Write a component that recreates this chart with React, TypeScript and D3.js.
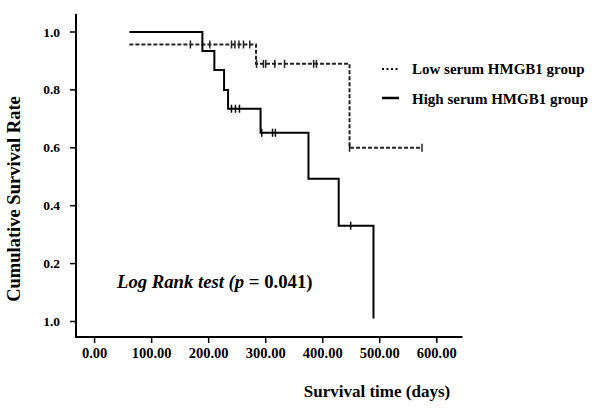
import React from "react";
import * as d3 from "d3";

// High serum HMGB1 group (solid): step points [time, survival]
const highTimes = [61, 189, 210, 227, 234, 291, 375, 428, 489];
const highSurv = [1.0, 0.934, 0.869, 0.8, 0.735, 0.652, 0.493, 0.331, 0.01];
const highCensorTimes = [240, 247, 254, 293, 312, 317, 449];

// Low serum HMGB1 group (dashed)
const lowTimes = [61, 283, 447, 574];
const lowSurv = [0.957, 0.89, 0.6, 0.6];
const lowCensorTimes = [168, 202, 240, 246, 253, 261, 272, 284, 296, 300, 316, 333, 384, 389, 447, 574];

const xTicks = [0, 100, 200, 300, 400, 500, 600];
const xTickLabels = ["0.00", "100.00", "200.00", "300.00", "400.00", "500.00", "600.00"];
const yTicks = [0, 0.2, 0.4, 0.6, 0.8, 1.0];
const yTickLabels = ["1.0", "0.2", "0.4", "0.6", "0.8", "1.0"];

const legendLabels = ["Low serum HMGB1 group", "High serum HMGB1 group"];

const FONT = "'Liberation Serif', 'Times New Roman', serif";

function survAt(times: number[], surv: number[], t: number) {
  let s = surv[0];
  for (let i = 0; i < times.length; i++) if (times[i] <= t) s = surv[i];
  return s;
}

export default function App() {
  const x = d3.scaleLinear().domain([0, 600]).range([94.6, 436.8]);
  const y = d3.scaleLinear().domain([0, 1]).range([321.5, 32]);
  const axisLeft = 76;
  const axisBottom = 337;

  const stepLine = d3
    .line<[number, number]>()
    .x((d) => x(d[0]))
    .y((d) => y(d[1]))
    .curve(d3.curveStepAfter);

  const highPts: [number, number][] = highTimes.map((t, i) => [t, highSurv[i]]);
  const lowPts: [number, number][] = lowTimes.map((t, i) => [t, lowSurv[i]]);

  return (
    <svg width={600} height={411} style={{ position: "absolute", left: 0, top: 0, background: "#fff" }} fontFamily={FONT}>
      <rect width={600} height={411} fill="#fff" />
      {/* axes */}
      <line x1={axisLeft} y1={14} x2={axisLeft} y2={axisBottom + 1} stroke="#000" strokeWidth={2} />
      <line x1={axisLeft - 1} y1={axisBottom} x2={462.5} y2={axisBottom} stroke="#000" strokeWidth={2} />
      {yTicks.map((v, i) => (
        <g key={"y" + i}>
          <line x1={axisLeft - 6} x2={axisLeft} y1={y(v)} y2={y(v)} stroke="#000" strokeWidth={1.5} />
          <text x={60} y={y(v) + 4.5} textAnchor="end" fontSize={13.5} fontWeight="bold">
            {yTickLabels[i]}
          </text>
        </g>
      ))}
      {xTicks.map((v, i) => (
        <g key={"x" + i}>
          <line x1={x(v)} x2={x(v)} y1={axisBottom} y2={axisBottom + 6} stroke="#000" strokeWidth={1.5} />
          <text x={x(v)} y={358} textAnchor="middle" fontSize={14.5} fontWeight="bold">
            {xTickLabels[i]}
          </text>
        </g>
      ))}
      {/* curves */}
      <path d={stepLine(lowPts) || ""} fill="none" stroke="#222" strokeWidth={2} strokeDasharray="4,2" />
      <path d={stepLine(highPts) || ""} fill="none" stroke="#000" strokeWidth={2} />
      {lowCensorTimes.map((t, i) => {
        const cy = y(survAt(lowTimes, lowSurv, t));
        return <line key={"lc" + i} x1={x(t)} x2={x(t)} y1={cy - 4} y2={cy + 4} stroke="#222" strokeWidth={1.5} />;
      })}
      {highCensorTimes.map((t, i) => {
        const cy = y(survAt(highTimes, highSurv, t));
        return <line key={"hc" + i} x1={x(t)} x2={x(t)} y1={cy - 4} y2={cy + 4} stroke="#000" strokeWidth={1.5} />;
      })}
      {/* legend */}
      <line x1={382} x2={399} y1={69} y2={69} stroke="#000" strokeWidth={2} strokeDasharray="2,2.5" />
      <text x={412} y={73.5} fontSize={15} fontWeight="bold">{legendLabels[0]}</text>
      <line x1={382} x2={399} y1={98} y2={98} stroke="#000" strokeWidth={2.5} />
      <text x={412} y={103.5} fontSize={15} fontWeight="bold">{legendLabels[1]}</text>
      {/* annotation */}
      <text x={117} y={288} fontSize={18.7} fontWeight="bold">
        <tspan fontStyle="italic">Log Rank test (p</tspan>
        <tspan> = 0.041)</tspan>
      </text>
      {/* axis titles */}
      <text x={377} y={397} textAnchor="middle" fontSize={17} fontWeight="bold">
        Survival time (days)
      </text>
      <text transform="translate(20,199) rotate(-90)" textAnchor="middle" fontSize={18.5} fontWeight="bold">
        Cumulative Survival Rate
      </text>
    </svg>
  );
}
